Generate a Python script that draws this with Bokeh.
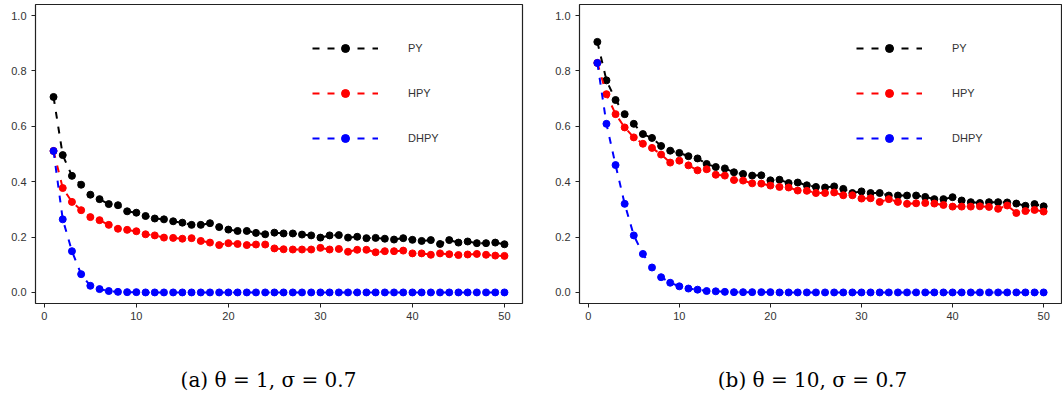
from bokeh.plotting import figure
from bokeh.layouts import row, column
from bokeh.models import (Range1d, FixedTicker, Legend, LegendItem, Label,
                          CustomJSTickFormatter)
from bokeh.embed import file_html
from bokeh.resources import INLINE

# ---------------- data ----------------
k = list(range(1, 51))

series_names = ["PY", "HPY", "DHPY"]
series_colors = ["#000000", "#FF0000", "#0000FF"]

a_py = [0.706, 0.496, 0.421, 0.389, 0.353, 0.337, 0.319, 0.315, 0.293, 0.288,
        0.276, 0.267, 0.264, 0.257, 0.252, 0.244, 0.244, 0.250, 0.236, 0.227,
        0.222, 0.222, 0.215, 0.210, 0.216, 0.213, 0.213, 0.209, 0.206, 0.198,
        0.206, 0.207, 0.198, 0.201, 0.196, 0.197, 0.194, 0.191, 0.196, 0.190,
        0.186, 0.189, 0.175, 0.189, 0.180, 0.184, 0.178, 0.178, 0.180, 0.174]
a_hpy = [0.511, 0.377, 0.327, 0.297, 0.272, 0.261, 0.244, 0.230, 0.226, 0.221,
         0.210, 0.206, 0.198, 0.197, 0.194, 0.196, 0.186, 0.180, 0.171, 0.178,
         0.175, 0.171, 0.173, 0.173, 0.159, 0.156, 0.155, 0.155, 0.155, 0.161,
         0.155, 0.157, 0.147, 0.154, 0.154, 0.145, 0.149, 0.149, 0.151, 0.141,
         0.141, 0.136, 0.141, 0.138, 0.135, 0.137, 0.139, 0.136, 0.133, 0.132]
a_dhpy = [0.511, 0.264, 0.149, 0.066, 0.024, 0.012, 0.005, 0.002, 0.001, 0.001,
          0.000, 0.000, 0.000, 0.000, 0.000, 0.000, 0.000, 0.000, 0.000, 0.000,
          0.000, 0.000, 0.000, 0.000, 0.000, 0.000, 0.000, 0.000, 0.000, 0.000,
          0.000, 0.000, 0.000, 0.000, 0.000, 0.000, 0.000, 0.000, 0.000, 0.000,
          0.000, 0.000, 0.000, 0.000, 0.000, 0.000, 0.000, 0.000, 0.000, 0.000]

b_py = [0.905, 0.766, 0.695, 0.644, 0.609, 0.572, 0.558, 0.529, 0.512, 0.504,
        0.492, 0.484, 0.464, 0.453, 0.448, 0.434, 0.428, 0.422, 0.423, 0.405,
        0.407, 0.395, 0.397, 0.387, 0.381, 0.379, 0.383, 0.374, 0.359, 0.365,
        0.359, 0.359, 0.350, 0.350, 0.350, 0.350, 0.345, 0.337, 0.337, 0.344,
        0.332, 0.326, 0.323, 0.326, 0.326, 0.325, 0.321, 0.313, 0.319, 0.311]
b_hpy = [0.829, 0.716, 0.644, 0.596, 0.560, 0.537, 0.522, 0.498, 0.469, 0.476,
         0.459, 0.441, 0.445, 0.425, 0.422, 0.406, 0.404, 0.394, 0.393, 0.386,
         0.381, 0.379, 0.368, 0.367, 0.359, 0.359, 0.361, 0.351, 0.351, 0.339,
         0.340, 0.327, 0.337, 0.327, 0.320, 0.322, 0.323, 0.321, 0.316, 0.310,
         0.310, 0.310, 0.311, 0.309, 0.302, 0.314, 0.287, 0.294, 0.298, 0.292]
b_dhpy = [0.829, 0.609, 0.460, 0.320, 0.206, 0.139, 0.090, 0.055, 0.035, 0.022,
          0.014, 0.010, 0.005, 0.004, 0.002, 0.001, 0.001, 0.001, 0.001, 0.001,
          0.000, 0.000, 0.000, 0.000, 0.000, 0.000, 0.000, 0.000, 0.000, 0.000,
          0.000, 0.000, 0.000, 0.000, 0.000, 0.000, 0.000, 0.000, 0.000, 0.000,
          0.000, 0.000, 0.000, 0.000, 0.000, 0.000, 0.000, 0.000, 0.000, 0.000]

x_ticks = [0, 10, 20, 30, 40, 50]
y_ticks = [0.0, 0.2, 0.4, 0.6, 0.8, 1.0]

captions = ["(a) \u03b8 = 1, \u03c3 = 0.7", "(b) \u03b8 = 10, \u03c3 = 0.7"]

TICK_FONT = "Liberation Sans"
TEXT_COLOR = "#333333"
PANEL_W = 531
PLOT_H = 340
CAP_H = 56


def make_panel(values, border_left, border_right):
    p = figure(width=PANEL_W, height=PLOT_H, output_backend="svg",
               toolbar_location=None,
               x_range=Range1d(-0.96, 51.96), y_range=Range1d(-0.04, 1.04),
               min_border_left=border_left, min_border_right=border_right,
               min_border_top=4, min_border_bottom=37)
    p.background_fill_color = "white"
    p.border_fill_color = "white"
    p.outline_line_color = "#222222"
    p.outline_line_width = 1.2
    p.xgrid.visible = False
    p.ygrid.visible = False

    for ax in (p.xaxis[0], p.yaxis[0]):
        ax.axis_line_color = None
        ax.major_tick_line_color = "#222222"
        ax.major_tick_in = 0
        ax.major_tick_out = 4
        ax.minor_tick_line_color = None
        ax.major_label_text_font = TICK_FONT
        ax.major_label_text_font_size = "11px"
        ax.major_label_text_color = TEXT_COLOR
    p.xaxis[0].ticker = FixedTicker(ticks=x_ticks)
    p.yaxis[0].ticker = FixedTicker(ticks=y_ticks)
    p.yaxis[0].formatter = CustomJSTickFormatter(code="return tick.toFixed(1);")
    p.xaxis[0].major_label_standoff = 4
    p.yaxis[0].major_label_standoff = 5

    items = []
    for name, color, ys in zip(series_names, series_colors, values):
        ln = p.line(k, ys, line_color=color, line_width=2, line_dash="7 8")
        sc = p.scatter(k, ys, marker="circle", size=7, fill_color=color,
                       line_color=color)
        items.append(LegendItem(label=name, renderers=[ln, sc]))

    legend = Legend(items=items, location=(277, 155), orientation="vertical",
                    glyph_width=66, glyph_height=20, label_height=20,
                    spacing=25, padding=0, margin=0, label_standoff=30,
                    label_text_font=TICK_FONT, label_text_font_size="11px",
                    label_text_color=TEXT_COLOR,
                    border_line_color=None, background_fill_alpha=0)
    p.add_layout(legend, "center")
    return p


def make_caption(text, center_x):
    c = figure(width=PANEL_W, height=CAP_H, output_backend="svg",
               toolbar_location=None, x_axis_type=None, y_axis_type=None,
               x_range=Range1d(0, 1), y_range=Range1d(0, 1),
               min_border=0)
    c.outline_line_color = None
    c.xgrid.visible = False
    c.ygrid.visible = False
    c.add_layout(Label(x=center_x, y=CAP_H - 39, x_units="screen",
                       y_units="screen", text=text, text_align="center",
                       text_baseline="middle", text_font="DejaVu Serif",
                       text_font_size="20px", text_color="#000000"))
    return c


p1 = make_panel([a_py, a_hpy, a_dhpy], 35, 9)
p2 = make_panel([b_py, b_hpy, b_dhpy], 48, 1)
c1 = make_caption(captions[0], 268)
c2 = make_caption(captions[1], 281)

layout = column(row(p1, p2), row(c1, c2))
open("out.html", "w").write(file_html(layout, INLINE))
